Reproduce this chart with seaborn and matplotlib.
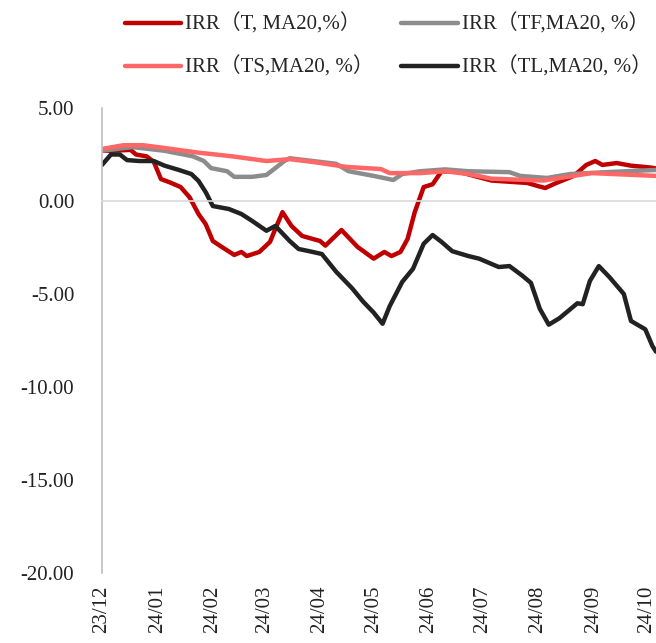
import matplotlib
matplotlib.use('Agg')
import matplotlib.pyplot as plt
import matplotlib.dates as mdates
import pandas as pd
import seaborn as sns

# IRR (MA20, %)
t_dates = ['2023-12-01', '2023-12-06', '2023-12-17', '2023-12-20', '2023-12-26', '2023-12-30',
           '2024-01-03', '2024-01-08', '2024-01-14', '2024-01-19', '2024-01-24', '2024-01-28',
           '2024-02-01', '2024-02-06', '2024-02-13', '2024-02-17', '2024-02-20', '2024-02-27',
           '2024-03-04', '2024-03-07', '2024-03-11', '2024-03-16', '2024-03-22', '2024-04-01',
           '2024-04-04', '2024-04-13', '2024-04-22', '2024-05-01', '2024-05-07', '2024-05-11',
           '2024-05-16', '2024-05-20', '2024-05-24', '2024-05-29', '2024-06-03', '2024-06-08',
           '2024-06-18', '2024-07-06', '2024-07-26', '2024-08-01', '2024-08-05', '2024-08-12',
           '2024-08-21', '2024-08-28', '2024-09-02', '2024-09-06', '2024-09-14', '2024-09-22',
           '2024-10-03', '2024-10-06']
t_vals = [2.70, 2.70, 2.75, 2.50, 2.40, 2.10,
          1.18, 1.00, 0.75, 0.20, -0.70, -1.24,
          -2.15, -2.47, -2.90, -2.74, -2.96, -2.74,
          -2.20, -1.50, -0.60, -1.34, -1.88, -2.15,
          -2.40, -1.56, -2.47, -3.10, -2.74, -2.96,
          -2.74, -2.04, -0.60, 0.75, 0.90, 1.60,
          1.56, 1.10, 0.97, 0.80, 0.70, 1.00,
          1.35, 1.94, 2.15, 1.94, 2.04, 1.90,
          1.80, 1.75]

tf_dates = ['2023-12-01', '2023-12-18', '2024-01-05', '2024-01-21', '2024-01-27', '2024-01-31',
            '2024-02-09', '2024-02-13', '2024-02-23', '2024-03-02', '2024-03-07', '2024-03-12',
            '2024-03-15', '2024-04-10', '2024-04-17', '2024-05-01', '2024-05-12', '2024-05-17',
            '2024-05-27', '2024-06-10', '2024-06-23', '2024-07-16', '2024-07-22', '2024-08-06',
            '2024-08-19', '2024-09-10', '2024-10-06']
tf_vals = [2.70, 2.90, 2.70, 2.40, 2.15, 1.77,
           1.60, 1.30, 1.30, 1.40, 1.77, 2.15,
           2.30, 2.00, 1.60, 1.35, 1.13, 1.45,
           1.60, 1.70, 1.60, 1.55, 1.35, 1.24,
           1.45, 1.56, 1.67]

ts_dates = ['2023-12-01', '2023-12-13', '2023-12-24', '2024-01-05', '2024-01-24', '2024-02-12',
            '2024-03-02', '2024-03-15', '2024-03-28', '2024-04-16', '2024-05-05', '2024-05-10',
            '2024-05-27', '2024-06-10', '2024-06-23', '2024-07-06', '2024-08-04', '2024-08-31',
            '2024-10-06']
ts_vals = [2.80, 3.00, 3.00, 2.85, 2.60, 2.40,
           2.15, 2.25, 2.10, 1.83, 1.72, 1.50,
           1.50, 1.60, 1.45, 1.20, 1.10, 1.50,
           1.35]

tl_dates = ['2023-12-01', '2023-12-06', '2023-12-11', '2023-12-15', '2023-12-22', '2023-12-30',
            '2024-01-05', '2024-01-13', '2024-01-20', '2024-01-24', '2024-01-28', '2024-02-01',
            '2024-02-10', '2024-02-17', '2024-02-23', '2024-03-02', '2024-03-07', '2024-03-15',
            '2024-03-20', '2024-03-26', '2024-04-02', '2024-04-10', '2024-04-19', '2024-04-25',
            '2024-05-01', '2024-05-06', '2024-05-10', '2024-05-17', '2024-05-23', '2024-05-29',
            '2024-06-03', '2024-06-08', '2024-06-14', '2024-06-23', '2024-06-29', '2024-07-10',
            '2024-07-16', '2024-07-23', '2024-07-28', '2024-08-02', '2024-08-07', '2024-08-13',
            '2024-08-23', '2024-08-26', '2024-08-30', '2024-09-04', '2024-09-10', '2024-09-18',
            '2024-09-22', '2024-09-30', '2024-10-04', '2024-10-06']
tl_vals = [1.94, 2.50, 2.50, 2.20, 2.15, 2.15,
           1.90, 1.67, 1.45, 1.08, 0.48, -0.27,
           -0.43, -0.70, -1.07, -1.60, -1.34, -2.15,
           -2.58, -2.70, -2.85, -3.80, -4.70, -5.40,
           -6.00, -6.60, -5.65, -4.35, -3.65, -2.30,
           -1.83, -2.20, -2.70, -2.96, -3.10, -3.55,
           -3.50, -4.00, -4.40, -5.80, -6.65, -6.30,
           -5.50, -5.55, -4.30, -3.50, -4.10, -5.00,
           -6.45, -6.90, -7.80, -8.10]

names = ['IRR（T, MA20,%）', 'IRR（TF,MA20, %）', 'IRR（TS,MA20, %）', 'IRR（TL,MA20, %）']
colors = ['#C00000', '#8C8C8C', '#FF6666', '#222222']

frames = []
for name, d, v in zip(names, [t_dates, tf_dates, ts_dates, tl_dates],
                      [t_vals, tf_vals, ts_vals, tl_vals]):
    frames.append(pd.DataFrame({'date': pd.to_datetime(d), 'irr': v, 'series': name}))
df = pd.concat(frames, ignore_index=True)

sns.set_style('white')
font = ['Liberation Serif', 'Noto Sans CJK SC']
plt.rcParams['font.family'] = font

fig = plt.figure(figsize=(6.56, 6.43), dpi=100)
ax = fig.add_axes([0.1555, 0.109, 0.8445, 0.723])

# draw order: pink on top
draw_order = [names[0], names[1], names[3], names[2]]
palette = dict(zip(names, colors))
sns.lineplot(data=df, x='date', y='irr', hue='series', hue_order=draw_order,
             palette=palette, linewidth=3.2, estimator=None, legend=False, ax=ax)

ax.set_ylim(-20, 5)
ax.set_xlim(pd.Timestamp('2023-12-01'), pd.Timestamp('2024-10-06'))
ax.set_yticks([-20, -15, -10, -5, 0, 5])
ax.yaxis.set_major_formatter(matplotlib.ticker.FormatStrFormatter('%.2f'))
ax.set_xlabel('')
ax.set_ylabel('')

for s in ['top', 'right']:
    ax.spines[s].set_visible(False)
ax.spines['left'].set_color('#BFBFBF')
ax.spines['left'].set_linewidth(1.2)
ax.spines['bottom'].set_position(('data', 0))
ax.spines['bottom'].set_color('#D9D9D9')
ax.spines['bottom'].set_linewidth(1.2)

ax.xaxis.set_major_locator(mdates.MonthLocator())
ax.tick_params(axis='x', direction='in', length=6, width=1.2, color='#D9D9D9',
               labelbottom=False)
ax.tick_params(axis='y', direction='in', length=6, width=1.2, color='#BFBFBF',
               labelsize=15, pad=20, labelcolor='#222222')

# month labels at the bottom of the plot
sec = ax.secondary_xaxis('bottom')
sec.xaxis.set_major_locator(mdates.MonthLocator())
sec.xaxis.set_major_formatter(mdates.DateFormatter('%y/%m'))
sec.tick_params(axis='x', length=0, labelsize=15, labelrotation=90, pad=9,
                labelcolor='#222222')
for lab in sec.get_xticklabels():
    lab.set_family(font)
sec.spines['bottom'].set_visible(False)

lines = dict(zip(draw_order, ax.get_lines()))
order = [names[0], names[2], names[1], names[3]]
fig.legend([lines[n] for n in order], order, ncol=2, loc='upper left',
           bbox_to_anchor=(0.17, 1.0), frameon=False, fontsize=15,
           handlelength=2.7, handletextpad=0.2, columnspacing=1.3,
           labelspacing=1.05, borderaxespad=0.25)

fig.savefig('out.png', dpi=100)
